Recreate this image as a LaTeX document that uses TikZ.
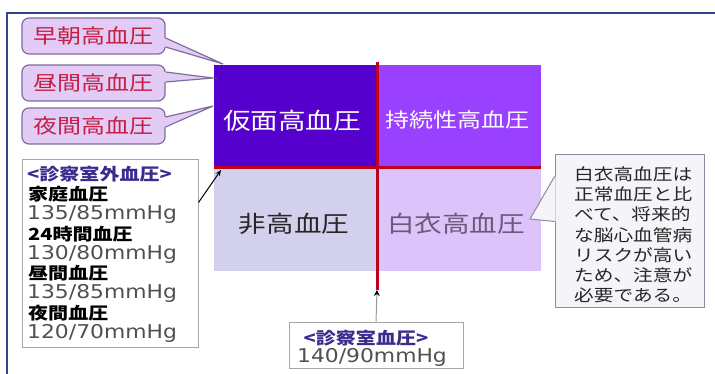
\documentclass[tikz,border=0pt]{standalone}
\usepackage{fontspec}
\newfontfamily\jp{Noto Sans CJK JP}[FakeStretch=1.2]
\newfontfamily\num{DejaVu Sans}[FakeStretch=1.15]
\usetikzlibrary{calc,arrows.meta}
\definecolor{framec}{HTML}{2A4A8C}
\definecolor{qa}{HTML}{5500CC}
\definecolor{qb}{HTML}{9A40FF}
\definecolor{qc}{HTML}{D2D0EC}
\definecolor{qd}{HTML}{DCC4FA}
\definecolor{redl}{HTML}{C00020}
\definecolor{calfill}{HTML}{E2CCF6}
\definecolor{caldraw}{HTML}{7E6E9E}
\definecolor{caltext}{HTML}{C41E44}
\definecolor{titlec}{HTML}{3C2A8C}
\definecolor{numc}{HTML}{505050}
\definecolor{rcfill}{HTML}{F5F4F8}
\definecolor{rcdraw}{HTML}{8A8AA0}
\definecolor{bdtext}{HTML}{6A5A7A}
\tikzset{
  calbox/.style={draw=caldraw, fill=calfill, line width=1.2, rounded corners=7,
    minimum width=143, minimum height=36, inner sep=0, text=caltext,
    font=\jp\fontsize{20}{24}\selectfont},
  calw/.style={draw=caldraw, line width=1.2},
  redline/.style={draw=redl, line width=3},
  quadtext/.style={inner sep=0, font=\jp\fontsize{23}{27}\selectfont},
  infobox/.style={draw=gray!70, line width=1, fill=white, inner sep=0},
  lbl/.style={anchor=west, inner sep=0, font=\jp\bfseries\fontsize{16.7}{20}\selectfont},
  numtxt/.style={anchor=west, inner sep=0, text=numc, font=\num\fontsize{19}{22}\selectfont},
  rtxt/.style={anchor=west, inner sep=0, font=\jp\fontsize{16.4}{20}\selectfont, text=black!85},
  arr/.style={-{Stealth[length=6,width=5]}, line width=1}
}
\begin{document}
\begin{tikzpicture}[x=1pt,y=-1pt]
\useasboundingbox (0,0) rectangle (715,374);
\fill[white] (0,0) rectangle (715,374);
\draw[framec, line width=2] (7,374) -- (7,13) -- (715,13);

% quadrants
\fill[qa] (214,65) rectangle (377,168);
\fill[qb] (377,65) rectangle (541,168);
\fill[qc] (214,168) rectangle (377,271);
\fill[qd] (377,168) rectangle (541,271);
\node[quadtext, text=white] (t1) at (292,121) {仮面高血圧};
\node[quadtext, text=white, font=\jp\fontsize{20}{24}\selectfont] (t2) at (457,120) {持続性高血圧};
\node[quadtext, text=black!85] (t3) at (294,224) {非高血圧};
\node[quadtext, text=bdtext] (t4) at (456,224) {白衣高血圧};

% red axes
\coordinate (vtop) at (377,62);
\coordinate (vt) at (377,290);
\coordinate (hl) at (214,168);
\coordinate (hr) at (541,168);
\draw[redline] (vtop) -- (vt);
\draw[redline] (hl) -- (hr);

% left callouts
\coordinate (p1) at (223,64);
\coordinate (p2) at (213,78);
\coordinate (p3) at (213,106);
\node[calbox] (c1) at (93.5,36) {早朝高血圧};
\node[calbox] (c2) at (93.5,83) {昼間高血圧};
\node[calbox] (c3) at (93.5,126) {夜間高血圧};
\fill[calfill] ($(c1.east)+(-1.5,2)$) -- (p1) -- ($(c1.east)+(-1.5,11)$) -- cycle;
\draw[calw] ($(c1.east)+(0,2)$) -- (p1) -- ($(c1.east)+(0,11)$);
\fill[calfill] ($(c2.east)+(-1.5,-11)$) -- (p2) -- ($(c2.east)+(-1.5,-1)$) -- cycle;
\draw[calw] ($(c2.east)+(0,-11)$) -- (p2) -- ($(c2.east)+(0,-1)$);
\fill[calfill] ($(c3.east)+(-1.5,-9)$) -- (p3) -- ($(c3.east)+(-1.5,1)$) -- cycle;
\draw[calw] ($(c3.east)+(0,-9)$) -- (p3) -- ($(c3.east)+(0,1)$);

% left info box
\node[infobox, minimum width=176, minimum height=187] (lb) at (110,253.5) {};
\node[lbl, text=titlec] (l1) at (27,174) {<診察室外血圧>};
\node[lbl] (l2) at (28,194) {家庭血圧};
\node[numtxt] (l3) at (27,214) {135/85mmHg};
\node[lbl] (l4) at (28,234) {24時間血圧};
\node[numtxt] (l5) at (27,254) {130/80mmHg};
\node[lbl] (l6) at (28,273) {昼間血圧};
\node[numtxt] (l7) at (27,293) {135/85mmHg};
\node[lbl] (l8) at (28,313) {夜間血圧};
\node[numtxt] (l9) at (27,333) {120/70mmHg};
\coordinate (corner) at (221,170);
\draw[arr] ($(lb.north east)+(0,43)$) -- (corner);

% right callout
\coordinate (pr) at (530,219);
\node[draw=rcdraw, fill=rcfill, line width=1, minimum width=149, minimum height=152, inner sep=0] (rc) at (629.5,231) {};
\fill[rcfill] ($(rc.north west)+(1,22)$) -- (pr) -- ($(rc.north west)+(1,67)$) -- cycle;
\draw[draw=rcdraw, line width=1] ($(rc.north west)+(0,22)$) -- (pr) -- ($(rc.north west)+(0,67)$);
\node[rtxt] (r1) at (574,174) {白衣高血圧は};
\node[rtxt] (r2) at (574,194) {正常血圧と比};
\node[rtxt] (r3) at (574,214) {べて、将来的};
\node[rtxt] (r4) at (574,235) {な脳心血管病};
\node[rtxt] (r5) at (574,255) {リスクが高い};
\node[rtxt] (r6) at (574,275) {ため、注意が};
\node[rtxt] (r7) at (574,295) {必要である。};

% bottom box
\node[infobox, minimum width=174, minimum height=46] (bb) at (376,345) {};
\node[lbl, anchor=center, text=titlec] (b1) at (366,338) {<診察室血圧>};
\node[numtxt, anchor=center] (b2) at (372,357) {140/90mmHg};
\draw[arr, draw=gray!80, -{Stealth[length=6,width=6,fill=black,color=black]}] (bb.north) -- (vt);
\end{tikzpicture}
\end{document}
